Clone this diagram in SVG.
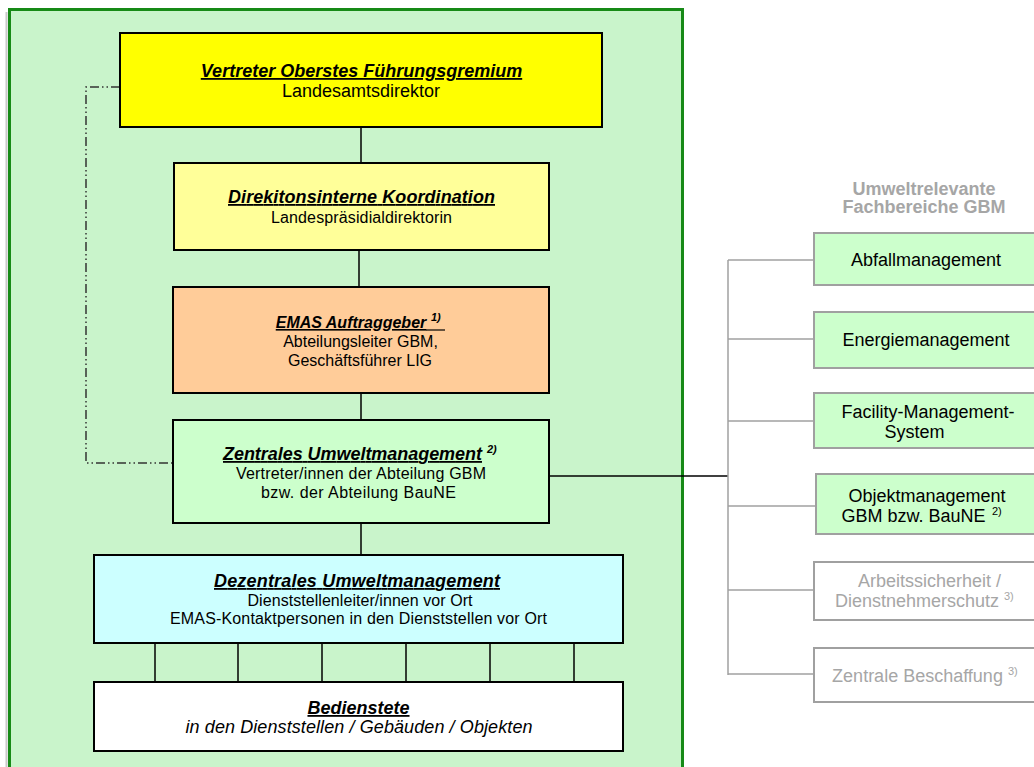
<svg xmlns="http://www.w3.org/2000/svg" width="1034" height="767" viewBox="0 0 1034 767">
<style>
text{font-family:"Liberation Sans",Arial,sans-serif;fill:#000;}
.t{font-weight:bold;font-style:italic;font-size:18px;text-decoration:underline;text-anchor:middle;}
.t16{font-size:16px;}
.b16{font-size:16px;text-anchor:middle;}
.b18{font-size:18px;text-anchor:middle;}
.sup{font-weight:bold;font-style:italic;font-size:11px;}
.rsup{font-size:11px;}
.box{stroke:#000;stroke-width:2;}
.rbox{stroke:#A0A0A0;stroke-width:2;}
.gray{fill:#A6A6A6;}
.conn{stroke:#000;stroke-width:1.5;fill:none;}
.gconn{stroke:#A0A0A0;stroke-width:1.5;fill:none;}
.dash{stroke:#333;stroke-width:1.5;fill:none;stroke-dasharray:9 3 1.5 3 1.5 3;}
</style>
<g id="panel">
<line x1="6.5" y1="12" x2="6.5" y2="767" stroke="#C8C8C8" stroke-width="2"/>
<rect x="9.5" y="9.5" width="673" height="770" fill="#C9F4CB" stroke="#178A17" stroke-width="3"/>
</g>
<g id="connectors">
<line class="conn" x1="361" y1="127" x2="361" y2="163"/>
<line class="conn" x1="359" y1="250" x2="359" y2="287"/>
<line class="conn" x1="361" y1="393" x2="361" y2="420"/>
<line class="conn" x1="361" y1="523" x2="361" y2="555"/>
<line class="conn" x1="155" y1="643" x2="155" y2="682"/>
<line class="conn" x1="238" y1="643" x2="238" y2="682"/>
<line class="conn" x1="322" y1="643" x2="322" y2="682"/>
<line class="conn" x1="406" y1="643" x2="406" y2="682"/>
<line class="conn" x1="490" y1="643" x2="490" y2="682"/>
<line class="conn" x1="574" y1="643" x2="574" y2="682"/>
<polyline class="dash" points="120,87 86,87 86,463 173,463"/>
<line class="conn" x1="549" y1="476" x2="728" y2="476"/>
<line class="gconn" x1="728" y1="260" x2="728" y2="675"/>
<line class="gconn" x1="728" y1="260" x2="814" y2="260"/>
<line class="gconn" x1="728" y1="339" x2="814" y2="339"/>
<line class="gconn" x1="728" y1="421" x2="814" y2="421"/>
<line class="gconn" x1="728" y1="506" x2="816" y2="506"/>
<line class="gconn" x1="728" y1="590" x2="814" y2="590"/>
<line class="gconn" x1="728" y1="674" x2="814" y2="674"/>
</g>
<g id="n1">
<rect class="box" x="120" y="33" width="482" height="94" fill="#FFFF00"/>
<text class="t" x="361.5" y="77">Vertreter Oberstes Führungsgremium</text>
<text class="b18" x="361" y="97">Landesamtsdirektor</text>
</g>
<g id="n2">
<rect class="box" x="174" y="163" width="375" height="87" fill="#FFFF99"/>
<text class="t" x="361.5" y="203" textLength="267">Direkitonsinterne Koordination</text>
<text class="b16" x="361.5" y="223" textLength="181">Landespräsidialdirektorin</text>
</g>
<g id="n3">
<rect class="box" x="173" y="287" width="376" height="106" fill="#FFCC99"/>
<text class="t t16" x="351" y="328">EMAS Auftraggeber</text>
<line x1="426" y1="330" x2="445" y2="330" stroke="#000" stroke-width="1.2"/>
<text class="sup" x="431" y="321">1)</text>
<text class="b16" x="360.5" y="347">Abteilungsleiter GBM,</text>
<text class="b16" x="360" y="366">Geschäftsführer LIG</text>
</g>
<g id="n4">
<rect class="box" x="173" y="420" width="376" height="103" fill="#CCFFCC"/>
<text class="t" x="352.5" y="460" textLength="259">Zentrales Umweltmanagement</text>
<text class="sup" x="487" y="453">2)</text>
<text class="b16" x="361" y="479" textLength="250">Vertreter/innen der Abteilung GBM</text>
<text class="b16" x="358.5" y="498" textLength="195">bzw. der Abteilung BauNE</text>
</g>
<g id="n5">
<rect class="box" x="94" y="555" width="529" height="88" fill="#CCFFFF"/>
<text class="t" x="357" y="587" textLength="286">Dezentrales Umweltmanagement</text>
<text class="b16" x="360" y="606" textLength="225">Dienststellenleiter/innen vor Ort</text>
<text class="b16" x="358.5" y="624" textLength="377">EMAS-Kontaktpersonen in den Dienststellen vor Ort</text>
</g>
<g id="n6">
<rect class="box" x="94" y="682" width="529" height="69" fill="#FFFFFF"/>
<text class="t" x="358.5" y="714">Bedienstete</text>
<text class="b18" x="359" y="733" font-style="italic" textLength="347">in den Dienststellen / Gebäuden / Objekten</text>
</g>
<g id="header">
<text class="b18 gray" x="924" y="195" font-weight="bold">Umweltrelevante</text>
<text class="b18 gray" x="924" y="213" font-weight="bold">Fachbereiche GBM</text>
</g>
<g id="r1">
<rect class="rbox" x="814" y="233" width="230" height="52" fill="#CCFFCC"/>
<text class="b18" x="926" y="266">Abfallmanagement</text>
</g>
<g id="r2">
<rect class="rbox" x="814" y="312" width="230" height="56" fill="#CCFFCC"/>
<text class="b18" x="926" y="346">Energiemanagement</text>
</g>
<g id="r3">
<rect class="rbox" x="814" y="393" width="230" height="55" fill="#CCFFCC"/>
<text class="b18" x="928" y="418">Facility-Management-</text>
<text class="b18" x="914.5" y="438">System</text>
</g>
<g id="r4">
<rect class="rbox" x="816" y="474" width="230" height="60" fill="#CCFFCC"/>
<text class="b18" x="927" y="502">Objektmanagement</text>
<text class="b18" x="913.5" y="522">GBM bzw. BauNE</text>
<text class="rsup" x="992" y="515">2)</text>
</g>
<g id="r5">
<rect class="rbox" x="814" y="562" width="230" height="58" fill="#FFFFFF"/>
<text class="b18 gray" x="929.5" y="587">Arbeitssicherheit /</text>
<text class="b18 gray" x="917" y="607">Dienstnehmerschutz</text>
<text class="rsup gray" x="1004" y="600">3)</text>
</g>
<g id="r6">
<rect class="rbox" x="814" y="648" width="230" height="54" fill="#FFFFFF"/>
<text class="b18 gray" x="917.5" y="682">Zentrale Beschaffung</text>
<text class="rsup gray" x="1008" y="675">3)</text>
</g>
</svg>
